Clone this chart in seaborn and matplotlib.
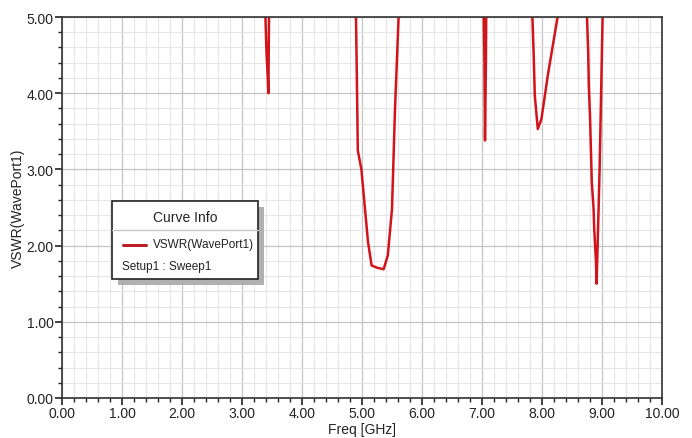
import matplotlib
matplotlib.use("Agg")
import matplotlib.pyplot as plt
import seaborn as sns
import pandas as pd
import numpy as np
from matplotlib.ticker import MultipleLocator, FormatStrFormatter
from matplotlib.patches import Rectangle
from matplotlib.lines import Line2D

# ---- data ----
dip1_freq = [3.39, 3.41, 3.43, 3.44, 3.45]
dip1_vswr = [5.00, 4.50, 4.20, 4.00, 5.00]

dip2_freq = [4.90, 4.92, 4.93, 4.99, 5.05, 5.10, 5.16, 5.25, 5.36, 5.43, 5.50, 5.55, 5.61]
dip2_vswr = [5.00, 3.87, 3.25, 3.00, 2.48, 2.05, 1.74, 1.71, 1.69, 1.87, 2.48, 3.79, 5.00]

dip3_freq = [7.03, 7.04, 7.05, 7.065, 7.07]
dip3_vswr = [5.00, 4.45, 3.38, 4.40, 5.00]

dip4_freq = [7.84, 7.86, 7.88, 7.93, 7.99, 8.10, 8.26]
dip4_vswr = [5.00, 4.54, 3.97, 3.53, 3.66, 4.25, 5.00]

dip5_freq = [8.75, 8.77, 8.78, 8.80, 8.83, 8.86, 8.87, 8.90, 8.91, 8.93, 8.96, 8.98, 9.01]
dip5_vswr = [5.00, 4.54, 4.10, 3.70, 2.83, 2.48, 2.22, 1.78, 1.50, 2.09, 3.00, 3.79, 5.00]

x_ticks = [0, 1, 2, 3, 4, 5, 6, 7, 8, 9, 10]
y_ticks = [0, 1, 2, 3, 4, 5]

segments = [(dip1_freq, dip1_vswr), (dip2_freq, dip2_vswr), (dip3_freq, dip3_vswr),
            (dip4_freq, dip4_vswr), (dip5_freq, dip5_vswr)]
rows = []
for i, (f, v) in enumerate(segments):
    for a, b in zip(f, v):
        rows.append({"Freq": a, "VSWR": b, "dip": i})
df = pd.DataFrame(rows)

sns.set_theme(style="white")
plt.rcParams['font.family'] = ['Liberation Sans', 'DejaVu Sans']
fs = 10

fig = plt.figure(figsize=(6.92, 4.39), dpi=100)
ax = fig.add_axes([62/692, 1 - 399/439, 600/692, 381/439])

sns.lineplot(data=df, x="Freq", y="VSWR", units="dip", estimator=None, sort=False,
             color="#d2141a", linewidth=1.8, ax=ax, legend=False)

ax.set_xlim(0, 10)
ax.set_ylim(0, 5)
ax.xaxis.set_minor_locator(MultipleLocator(0.2))
ax.yaxis.set_minor_locator(MultipleLocator(0.2))
ax.set_xticks(x_ticks)
ax.set_yticks(y_ticks)
ax.xaxis.set_major_formatter(FormatStrFormatter("%.2f"))
ax.yaxis.set_major_formatter(FormatStrFormatter("%.2f"))

ax.grid(which="minor", color="#e6e6e6", linewidth=0.8)
ax.grid(which="major", color="#c4c4c4", linewidth=0.9)
ax.set_axisbelow(True)

for s in ax.spines.values():
    s.set_color("#333333")
    s.set_linewidth(1.2)

ax.tick_params(axis="both", which="major", direction="out", length=5, width=1.2,
               color="#222222", labelsize=fs, labelcolor="#222222", pad=1,
               bottom=True, left=True)
ax.tick_params(axis="both", which="minor", direction="out", length=3, width=1.0,
               color="#222222", bottom=True, left=True)

ax.set_xlabel("Freq [GHz]", fontsize=fs, color="#222222", labelpad=1)
ax.set_ylabel("VSWR(WavePort1)", fontsize=fs, color="#222222", labelpad=1)

# ---- legend box ("Curve Info") ----
def px2ax(x, y):
    return ((x - 62) / 600, (399 - y) / 381)

x0, y0 = px2ax(112, 280)
x1, y1 = px2ax(258, 202)
sx, sy = 6 / 600, 6 / 381
ax.add_patch(Rectangle((x0 + sx, y0 - sy), x1 - x0, y1 - y0, transform=ax.transAxes,
                       facecolor="#b0b0b0", edgecolor="none", zorder=5, clip_on=False))
ax.add_patch(Rectangle((x0, y0), x1 - x0, y1 - y0, transform=ax.transAxes,
                       facecolor="white", edgecolor="#222222", linewidth=1.2, zorder=6,
                       clip_on=False))
_, ysep = px2ax(0, 231)
ax.add_line(Line2D([x0, x1], [ysep, ysep], transform=ax.transAxes, color="#c8c8c8",
                   linewidth=1.0, zorder=7))
cx, cy = px2ax(185, 218)
ax.text(cx, cy, "Curve Info", transform=ax.transAxes, ha="center", va="center",
        fontsize=fs, color="#222222", zorder=8)
lx0, ly = px2ax(123, 246)
lx1, _ = px2ax(146, 246)
ax.add_line(Line2D([lx0, lx1], [ly, ly], transform=ax.transAxes, color="#b82025",
                   linewidth=2.2, zorder=8))
tx, ty = px2ax(153, 245)
ax.text(tx, ty, "VSWR(WavePort1)", transform=ax.transAxes, ha="left", va="center",
        fontsize=8.5, color="#222222", zorder=8)
tx2, ty2 = px2ax(122, 267)
ax.text(tx2, ty2, "Setup1 : Sweep1", transform=ax.transAxes, ha="left", va="center",
        fontsize=8.5, color="#222222", zorder=8)

fig.savefig("out.png", dpi=100)
